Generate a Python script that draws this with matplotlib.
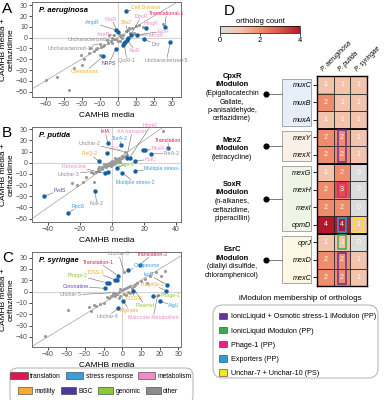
import matplotlib
matplotlib.use("Agg")
import matplotlib.pyplot as plt
from matplotlib.colors import LinearSegmentedColormap
from matplotlib.patches import Rectangle, FancyBboxPatch, Patch

plt.rcParams['font.family'] = ['Liberation Sans', 'DejaVu Sans']

# ---------------- data: scatter panels ----------------
CATEGORIES = ['translation', 'stress response', 'metabolism',
              'motility', 'BGC', 'genomic', 'other']
CAT_COLORS = {'translation': '#e3174f', 'stress response': '#3a9ddc',
              'metabolism': '#f08cc4', 'motility': '#f7aa30',
              'BGC': '#4a3c9e', 'genomic': '#8cc83c', 'other': '#8c8c8c'}
TEXT_COLORS = dict(CAT_COLORS, BGC='#6a3fb0')

# P. aeruginosa
PA_GRAY_X = [-40, -33.5, -27, -24, -19.6, -20.5, -18.7, -9.8, -15.3, -13, -11.5, -9.5, -7.5,
             -5.5, -4, -3, -5, -2, -1, 1.5, 2.5, 1.5, 5.5, 6.5, 8, 10, 12, 9, 0, -8, -6, 3,
             4.5, -3, 2, -10, -2, 14, 6, 24.8, -16, -12]
PA_GRAY_Y = [-39, -36.4, -48.5, -28, -25, -15.8, -19.8, -15.8, -9.7, -12, -10, -9, -6.5,
             -5, -3, 0, 2.5, 2.5, -1, 2.5, -0.5, -3, 7, 4, 8.5, 11, 12, 4, -3.5, -8, -2, 2,
             6, -5, 0.5, -6, -1.5, 10, 9, 12.7, -14, -11]
PA_BLUE_X = [4.5, -1, 0.2, 26, 15.6, 29, 14.6, 10.5, 7.2, 5.7, 5.2, 4.1, 3.5, 2.8, -1, -8]
PA_BLUE_Y = [24.5, 7, 4.8, 10, 8.5, -4.5, -1.5, 2.4, 2.4, 0, -2.1, -3.6, -5, -6.4, -10.3,
             -17.3]
PA_NAMES = ['Cell Division', 'Translational-1', 'DguR', 'GlpR', 'Sfa2', 'HmgR', 'AmpR',
            'AmrR', 'EutR', 'MmsR', 'Dnr', 'Uncharacterized-5', 'AtuR', 'QscR-1', 'NRPS',
            'Chemotaxis', 'Uncharacterized-1', 'Uncharacterized-14']
PA_CATS = ['motility', 'translation', 'metabolism', 'metabolism', 'motility', 'metabolism',
           'stress response', 'metabolism', 'metabolism', 'metabolism', 'other', 'other',
           'metabolism', 'other', 'BGC', 'motility', 'other', 'other']
PA_TX = [4.5, 26, 7.2, 0.2, 5.7, 15.6, -1, -1, 10.5, 7.2, 14.6, 29, 5.2, 3.5, -1, -8, -3,
         -10]
PA_TY = [24.5, 10, 2.4, 4.8, 3, 8.5, 7, 2, 2.4, 2.4, -1.5, -4.5, -2.1, -5, -10.3, -17.3, -1,
         -6]

# P. putida
PP_GRAY_X = [31.5, -22, -18, -25, -11.3, -13.3, 8, -12, -10, -9, -8, -7, -6, -6, -5, -4, -4,
             -3, -3, -2, -2, -1, -1, 0, 0, 1, 1, 2, 2, 3, 3, 4, 4, 5, 6, 6, 7, 8, 5, -5, -8,
             9, -1, 0, 2, -16]
PP_GRAY_Y = [28.5, -19.5, -17, -18.5, -17.5, -7.9, 9.7, -9, -8, -6, -7, -5, -4, -6, -3, -2,
             -4, -1, -3, 0, -2, 1, -1, 0, -2, 1, -1, 2, 0, 1, 3, 2, 4, 3, 4, 6, 5, 6, 1, -1,
             -4, 7, -3, 2, 4, -13]
PP_BLUE_X = [-2.7, 5.4, -2.9, 35, 19, 20.5, 24, 14.4, 9, 11, -8.1, 14.4, 2.9, 6, -2.3, -4.4,
             -42.5, -27.3, -10.6]
PP_BLUE_Y = [17.9, 15.7, 8.8, 13.4, 11, 11, 8, 1.8, 4.5, 4.5, 1.2, -7.3, -4.3, -8.8, -7.9,
             -9.4, -30, -44.8, -25.5]
PP_NAMES = ['InfA', 'AA transport', 'HmgR', 'Translation', 'Unchar-2', 'TurA-2', 'GlcC',
            'FleQ-2', 'RbsR-2', 'FnrA-2', 'HutC', 'Putrescine', 'Phage-2',
            'Multiple stress-1', 'Unchar-3', 'Multiple stress-2', 'PvdS', 'Null-2', 'RpoS']
PP_CATS = ['translation', 'metabolism', 'metabolism', 'translation', 'other',
           'stress response', 'metabolism', 'motility', 'metabolism', 'other', 'metabolism',
           'metabolism', 'genomic', 'stress response', 'other', 'stress response', 'BGC',
           'other', 'stress response']
PP_TX = [-2.7, 9, 11, 35, 8, 5.4, -2.9, -8.1, 19, 24, 14.4, -4.4, 2.9, 14.4, -13.3, 6,
         -42.5, -10.6, -27.3]
PP_TY = [17.9, 4.5, 4.5, 13.4, 9.7, 15.7, 8.8, 1.2, 11, 8, 1.8, -9.4, -4.3, -7.3, -7.9,
         -8.8, -30, -25.5, -44.8]

# P. syringae
PS_GRAY_X = [-41.5, -29, -17, -18, -15, -12, -10, -7, -5, -4, -3, -2, -1, 0, 1, 1, 2, 3, 3,
             4, 5, 6, 7, 8, 10, 12, 13, 15, 18, 21, 23, -6, -8, -2, 2, 4, -1, -4, 1, 19, -5,
             -14]
PS_GRAY_Y = [-39.5, -16, -17.5, -14, -12, -11, -10, -6, -3, -1, -2, 0, -4, 1, 2, -2, 3, 0, 4,
             5, 3, 5, 6, 8, 9, 11, 8, 14, 17, 14, 18, -4, -5, -6, -3, -1, 2, -4, 17, -3, -1,
             -13]
PS_BLUE_X = [9.5, 2.8, -2.5, -3.9, -3, -8.2, -7, -9.1, 24.2, 23.4, 5.9, 16.2, 20.1, 0.5,
             -2.1]
PS_BLUE_Y = [23.9, 19.2, 14.2, 10.3, 10, 7.7, 7.7, 2.9, 5.9, 0.9, 0.3, -4.1, -8.6, -8,
             -14.5]
PS_NAMES = ['Translation-2', 'Unchar-3', 'Translation-1', 'Chaperone', 'T3SS-1', 'IscR',
            'Phage-2', 'Flagella-1', 'Coronatine', 'Unchar-5', 'T3SS-2', 'Phage-1', 'AlgU',
            'Plasmid', 'Alginate', 'Unchar-4', 'Malonate Metabolism']
PS_CATS = ['translation', 'other', 'translation', 'stress response', 'motility',
           'stress response', 'genomic', 'motility', 'BGC', 'other', 'motility', 'genomic',
           'stress response', 'genomic', 'motility', 'other', 'metabolism']
PS_TX = [9.5, 1, -2.5, 2.8, -3.9, 24.2, -8.2, 23.4, -9.1, -5, 5.9, 16.2, 20.1, 6.5, 0.5,
         -2.1, 19]
PS_TY = [23.9, 17, 14.2, 19.2, 10.3, 5.9, 7.7, 0.9, 2.9, -1, 0.3, -4.1, -8.6, 1.5, -8,
         -14.5, -3]

# ---------------- data: ortholog heatmap ----------------
GENES = ['muxC', 'muxB', 'muxA', 'mexY', 'mexX', 'mexG', 'mexH', 'mexI', 'opmD', 'oprJ',
         'mexD', 'mexC']
SPECIES = ['P. aeruginosa', 'P. putida', 'P. syringae']
COUNT_PA = [1, 2, 1, 2, 2, 1, 2, 2, 4, 1, 2, 2]
COUNT_PP = [1, 1, 1, 2, 2, 2, 3, 2, 4, 1, 2, 2]
COUNT_PS = [1, 1, 1, 1, 1, 0, 0, 0, 1, 0, 1, 1]
GROUP_TITLES = [['CpxR', 'iModulon'], ['MexZ', 'iModulon'], ['SoxR', 'iModulon'],
                ['EsrC', 'iModulon']]
GROUP_NOTES = [['(Epigallocatechin', 'Gallate,', 'p-anisaldehyde,', 'ceftazidime)'],
               ['(tetracycline)'],
               ['(n-alkanes,', 'ceftazidime,', 'piperacillin)'],
               ['(diallyl disulfide,', 'chloramphenicol)']]
GROUP_FIRST = [0, 3, 5, 9]
GROUP_LAST = [2, 4, 8, 11]
MEMBERSHIP = ['IonicLiquid + Osmotic stress-1 iModulon (PP)', 'IonicLiquid iModulon (PP)',
              'Phage-1 (PP)', 'Exporters (PP)', 'Unchar-7 + Unchar-10 (PS)']
# highlighted orthologs: species column, first gene row, last gene row, membership
HL_COL = [1, 1, 1, 1, 1, 2]
HL_FIRST = [3, 10, 9, 6, 8, 8]
HL_LAST = [4, 11, 9, 6, 8, 8]
HL_MEMBER = [0, 0, 1, 2, 3, 4]

# ---------------- layout / style ----------------
W, H = 385, 400
MEM_COLORS = ['#6a2fa0', '#33b04a', '#ec1c8c', '#1fa0e0', '#f6e61a']
GROUP_FILL = ['#e6eef7', '#fbf0e6', '#eef5e6', '#fbf7e3']
DOT_ROWS = [0.55, 3.5, 6.5, 10.0]

PA_LABEL_POS = [(15.5, 27.5), (27, 22.5), (12.8, 19.4), (-3.6, 17), (4.4, 14), (18.3, 13),
                (-14, 14), (-8, 3.3), (25.3, 6.1), (21, 2.4), (21, -6), (27, -21),
                (9.7, -12.1), (5, -21), (-5, -24), (-18, -31.5), (-15.5, -2.1), (-26, -9.7)]
PP_LABEL_POS = [(-4.4, 28), (12.5, 28), (24, 33), (35, 20), (-14, 17.3), (4.6, 21.8),
                (2.5, 12.5), (-14, 8), (30, 12.5), (37, 8), (24, 3), (-23.8, -3.3),
                (8, -1.8), (32, -4.8), (-27, -10.3), (14.4, -17.6), (-32.5, -24.5),
                (-9.6, -36.7), (-21, -39)]
PS_LABEL_POS = [(16, 33), (-2, 33.3), (-12.7, 26), (13, 23), (-14.4, 17), (14, 15),
                (-24, 14.2), (16, 6.2), (-25, 4.4), (-28, -3), (6.4, -6.5), (26, -3.5),
                (27.8, -12.4), (12.1, -12.4), (3.7, -16.8), (-7.9, -22), (16.6, -22.7)]


def fig_rect(left, top, right, bottom):
    return [left / W, 1 - bottom / H, (right - left) / W, (bottom - top) / H]


def scatter_panel(ax, gx, gy, bx, by, names, cats, tx, ty, label_pos, title,
                  xlim, ylim, xticks, yticks):
    ax.axhline(0, color='#d4d4d4', lw=0.8, zorder=0)
    ax.axvline(0, color='#d4d4d4', lw=0.8, zorder=0)
    ax.axline((0, 0), slope=1, color='#a0a0a0', lw=0.5, zorder=1)
    ax.scatter(gx, gy, s=5, color='#9a9a9a', lw=0, zorder=2)
    ax.scatter(bx, by, s=10, color='#1561a9', lw=0, zorder=4)
    for name, cat, x, y, pos in zip(names, cats, tx, ty, label_pos):
        ax.annotate(name, xy=(x, y), xytext=pos, fontsize=3.8, color=TEXT_COLORS[cat],
                    ha='center', va='center', zorder=5, annotation_clip=False,
                    bbox=dict(boxstyle='square,pad=0.1', fc='none', ec='none'),
                    arrowprops=dict(arrowstyle='-', color='#555555', lw=0.35,
                                    shrinkA=0, shrinkB=1))
    ax.text(0.05, 0.95, title, transform=ax.transAxes, fontsize=5.5, fontweight='bold',
            style='italic', va='top', ha='left')
    ax.set_xlim(xlim)
    ax.set_ylim(ylim)
    ax.set_xticks(xticks)
    ax.set_yticks(yticks)
    ax.tick_params(labelsize=5, length=2, width=0.5, pad=1, labelcolor='#4d4d4d')
    for sp in ax.spines.values():
        sp.set_color('#707070')
        sp.set_linewidth(0.7)
    ax.set_xlabel('CAMHB media', fontsize=6, labelpad=3)
    ax.set_ylabel('CAMHB media +\nceftazidime', fontsize=6, labelpad=1, linespacing=1.0)


def main():
    fig = plt.figure(figsize=(W / 100, H / 100), dpi=100)

    ax_a = fig.add_axes(fig_rect(32, 2, 181, 97))
    scatter_panel(ax_a, PA_GRAY_X, PA_GRAY_Y, PA_BLUE_X, PA_BLUE_Y, PA_NAMES, PA_CATS,
                  PA_TX, PA_TY, PA_LABEL_POS, 'P. aeruginosa', (-47.5, 35), (-55, 33),
                  range(-40, 31, 10), range(-50, 31, 10))
    ax_b = fig.add_axes(fig_rect(32, 127, 181, 222))
    scatter_panel(ax_b, PP_GRAY_X, PP_GRAY_Y, PP_BLUE_X, PP_BLUE_Y, PP_NAMES, PP_CATS,
                  PP_TX, PP_TY, PP_LABEL_POS, 'P. putida', (-50, 43), (-53, 32),
                  range(-40, 41, 20), range(-50, 31, 10))
    ax_c = fig.add_axes(fig_rect(32, 252, 181, 347))
    scatter_panel(ax_c, PS_GRAY_X, PS_GRAY_Y, PS_BLUE_X, PS_BLUE_Y, PS_NAMES, PS_CATS,
                  PS_TX, PS_TY, PS_LABEL_POS, 'P. syringae', (-48.5, 31.5), (-49, 35),
                  range(-40, 31, 10), range(-40, 31, 10))

    for letter, x, y in [('A', 2, 2), ('B', 2, 126), ('C', 2, 251), ('D', 224, 4)]:
        fig.text(x / W, 1 - y / H, letter, fontsize=11, va='top', ha='left')

    # category legend (bottom left)
    fig.patches.append(FancyBboxPatch((10 / W, -0.01), 183 / W, 0.09,
                                      boxstyle='round,pad=0,rounding_size=0.02',
                                      transform=fig.transFigure, fc='white',
                                      ec='#b0b0b0', lw=0.7))
    handles = [Patch(facecolor=CAT_COLORS[c], edgecolor='#333333', lw=0.4) for c in CATEGORIES]
    fig.legend(handles[:3], CATEGORIES[:3], loc='center',
               bbox_to_anchor=(101 / W, 1 - 376 / H), ncol=3, frameon=False,
               fontsize=4.8, handlelength=2.6, handleheight=1.1, handletextpad=0.4,
               columnspacing=0.7, borderpad=0)
    fig.legend(handles[3:], CATEGORIES[3:], loc='center',
               bbox_to_anchor=(98 / W, 1 - 391 / H), ncol=4, frameon=False,
               fontsize=4.8, handlelength=2.2, handleheight=1.1, handletextpad=0.4,
               columnspacing=0.8, borderpad=0)

    # ---------------- panel D ----------------
    counts = [[a, p, s] for a, p, s in zip(COUNT_PA, COUNT_PP, COUNT_PS)]
    cmap = LinearSegmentedColormap.from_list(
        'ortho', [(0, '#dcdcdc'), (0.25, '#f4c4ae'), (0.5, '#ef8d6d'),
                  (0.75, '#da5848'), (1, '#b2182b')])
    ax_d = fig.add_axes(fig_rect(317, 76, 367, 286))
    im = ax_d.imshow(counts, cmap=cmap, vmin=0, vmax=4, aspect='auto')
    for r, row in enumerate(counts):
        for c, v in enumerate(row):
            ax_d.text(c, r, str(v), ha='center', va='center', color='white', fontsize=5)
    for i in range(1, 3):
        ax_d.axvline(i - 0.5, color='#222222', lw=0.6)
    for j in range(1, len(GENES)):
        ax_d.axhline(j - 0.5, color='#222222', lw=0.6)
    for last in GROUP_LAST[:-1]:
        ax_d.axhline(last + 0.5, color='black', lw=1.3)
    for sp in ax_d.spines.values():
        sp.set_linewidth(1.0)
    for c, r0, r1, m in zip(HL_COL, HL_FIRST, HL_LAST, HL_MEMBER):
        ax_d.add_patch(Rectangle((c - 0.25, r0 - 0.4), 0.5, r1 - r0 + 0.8, fill=False,
                                 ec=MEM_COLORS[m], lw=1.1, zorder=5))
    ax_d.set_xticks(range(len(SPECIES)))
    ax_d.set_xticklabels(SPECIES, rotation=45, ha='left', rotation_mode='anchor',
                         style='italic', fontsize=4.8)
    ax_d.xaxis.tick_top()
    ax_d.tick_params(axis='x', length=0, pad=2)
    ax_d.set_yticks(range(len(GENES)))
    ax_d.set_yticklabels(GENES, style='italic', fontsize=5.2)
    ax_d.tick_params(axis='y', length=3, width=0.6, pad=1)

    # gene group boxes, connectors and iModulon descriptions
    col_px = 50 / 3
    box_l = (282 - 317) / col_px - 0.5
    box_r = (311 - 317) / col_px - 0.5
    dot_x = (266 - 317) / col_px - 0.5
    text_x = (232 - 317) / col_px - 0.5
    line_step = 8.5 / (210 / 12)
    for g, (r0, r1) in enumerate(zip(GROUP_FIRST, GROUP_LAST)):
        ax_d.add_patch(Rectangle((box_l, r0 - 0.35), box_r - box_l, r1 - r0 + 0.7,
                                 fc=GROUP_FILL[g], ec='#9a9a9a', lw=0.6, clip_on=False,
                                 zorder=0))
        ax_d.plot([dot_x, box_l], [DOT_ROWS[g], DOT_ROWS[g]], color='#666666', lw=0.6,
                  clip_on=False)
        ax_d.plot([dot_x], [DOT_ROWS[g]], 'o', color='black', ms=3.4, clip_on=False)
        lines = GROUP_TITLES[g] + GROUP_NOTES[g]
        centre = DOT_ROWS[g] + 0.17
        for k, line in enumerate(lines):
            y = centre + (k - (len(lines) - 1) / 2) * line_step
            bold = k < len(GROUP_TITLES[g])
            ax_d.text(text_x, y, line, ha='center', va='center', clip_on=False,
                      fontsize=5.4 if bold else 5.0,
                      fontweight='bold' if bold else 'normal')
    ax_d.set_xlim(-0.5, len(SPECIES) - 0.5)
    ax_d.set_ylim(len(GENES) - 0.5, -0.5)

    # colorbar
    cax = fig.add_axes(fig_rect(220, 26, 300, 33))
    cb = fig.colorbar(im, cax=cax, orientation='horizontal', ticks=[0, 2, 4])
    cb.outline.set_linewidth(0.5)
    cax.tick_params(labelsize=5.5, length=2, width=0.5, pad=1)
    cax.set_title('ortholog count', fontsize=5.5, pad=2)

    # membership legend
    fig.text(300 / W, 1 - 298 / H, 'iModulon membership of orthologs', fontsize=5.8,
             ha='center', va='center')
    fig.patches.append(FancyBboxPatch((213 / W, 1 - 378 / H), 165 / W, 73 / H,
                                      boxstyle='round,pad=0,rounding_size=0.025',
                                      transform=fig.transFigure, fc='white',
                                      ec='#b0b0b0', lw=0.7))
    mem_handles = [Patch(facecolor=c, edgecolor='#333333', lw=0.4) for c in MEM_COLORS]
    fig.legend(mem_handles, MEMBERSHIP, loc='upper left',
               bbox_to_anchor=(215 / W, 1 - 309 / H), frameon=False, fontsize=5.2,
               handlelength=1.1, handleheight=1.0, handletextpad=0.6, labelspacing=0.9,
               borderpad=0)

    fig.savefig('out.png', dpi=100)


if __name__ == '__main__':
    main()
